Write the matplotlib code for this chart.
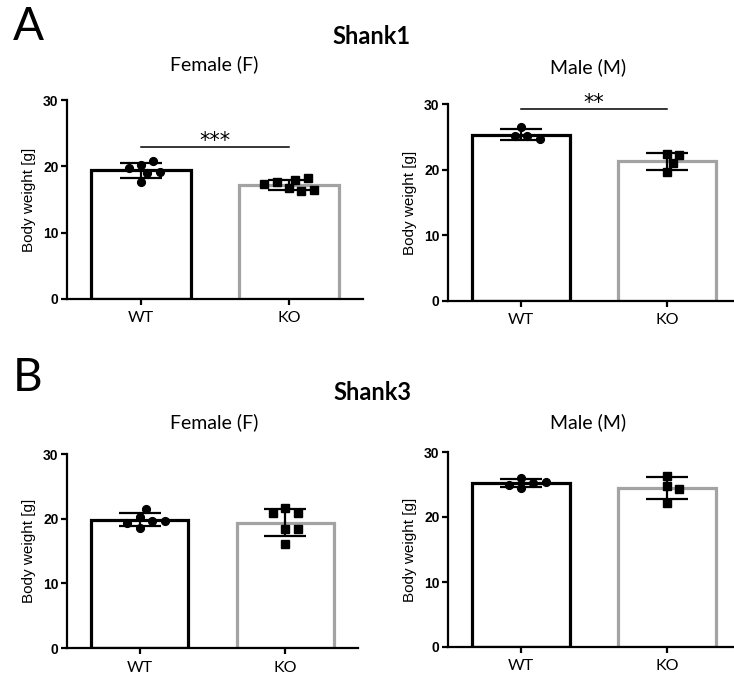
import numpy as np
import matplotlib
matplotlib.use("Agg")
import matplotlib.pyplot as plt

# body weights [g] per animal
groups = ["WT", "KO"]

shank1_f_wt = [20.2, 20.8, 19.0, 19.75, 19.15, 17.6]
shank1_f_ko = [16.8, 18.0, 17.7, 16.3, 18.2, 17.3, 16.4]
shank1_m_wt = [26.5, 25.1, 25.1, 24.6]
shank1_m_ko = [22.4, 22.2, 21.0, 19.6]

shank3_f_wt = [20.3, 21.5, 19.7, 18.6, 19.3, 19.7]
shank3_f_ko = [21.7, 20.9, 20.9, 18.4, 18.4, 16.1]
shank3_m_wt = [26.0, 25.2, 24.5, 25.0, 25.4]
shank3_m_ko = [26.3, 24.8, 24.3, 22.2]

yticks = [0, 10, 20, 30]
sig_f1 = "***"
sig_m1 = "**"

TITLE_FONT = "Lato"
TICK_FONT = "Liberation Sans"
KO_GREY = "#a3a3a3"

fig = plt.figure(figsize=(7.34, 6.75), dpi=100)


def swarm_offsets(ax, vals, diam_px, step):
    # spread points sideways so the markers don't overlap (scatter dot plot)
    t = ax.transData.transform
    sx = t((1, 0))[0] - t((0, 0))[0]
    sy = t((0, 1))[1] - t((0, 0))[1]
    placed = []
    offs = []
    for v in vals:
        y = v * sy
        k = 0
        while True:
            cands = [0.0] if k == 0 else [k * step, -k * step]
            ok = None
            for c in cands:
                if all((c - px) ** 2 + (y - py) ** 2 >= diam_px ** 2 for px, py in placed):
                    ok = c
                    break
            if ok is not None:
                placed.append((ok, y))
                offs.append(ok / sx)
                break
            k += 1
    return np.array(offs)


def panel(rect, wt, ko, sig=None, sig_y=None):
    ax = fig.add_axes(rect)
    ax.set_xlim(-0.5, 1.5)
    ax.set_ylim(0, 30)
    for s in ["top", "right"]:
        ax.spines[s].set_visible(False)
    for s in ["left", "bottom"]:
        ax.spines[s].set_linewidth(1.6)
    ax.set_yticks(yticks)
    ax.set_xticks([0, 1])
    ax.set_xticklabels(groups, fontfamily=TITLE_FONT, fontsize=11.5)
    for lab in ax.get_yticklabels():
        lab.set_fontfamily(TICK_FONT)
        lab.set_fontweight("bold")
        lab.set_fontsize(10)
    ax.tick_params(axis="y", length=4, width=1.6, pad=2)
    ax.tick_params(axis="x", length=4, width=1.6, pad=5)
    ax.set_ylabel("Body weight [g]", fontfamily=TICK_FONT, fontsize=11, labelpad=5)

    for i, (vals, col, mk) in enumerate([(wt, "black", "o"), (ko, KO_GREY, "s")]):
        vals = np.array(vals)
        mean = vals.mean()
        sd = vals.std(ddof=1)
        ax.bar(i, mean, width=0.67, facecolor="white", edgecolor=col,
               linewidth=2.3, zorder=2)
        offs = swarm_offsets(ax, vals, 9.5, 6.2)
        ax.plot(i + offs, vals, mk, color="black", markersize=5.6 if mk == "o" else 5.3,
                linestyle="none", zorder=3)
        ax.errorbar(i, mean, yerr=sd, color="black", capsize=15, capthick=1.6,
                    elinewidth=1.6, zorder=4)

    if sig:
        ax.plot([0, 1], [sig_y, sig_y], color="black", lw=1.1, clip_on=False)
        ax.text(0.5, sig_y, sig, ha="center", va="baseline", fontsize=15,
                fontfamily="DejaVu Sans")
    return ax


W, H = 734.0, 675.0

panel([67 / W, 1 - 299 / H, 296 / W, 199 / H], shank1_f_wt, shank1_f_ko, sig_f1, 22.9)
panel([448 / W, 1 - 301 / H, 292 / W, 197 / H], shank1_m_wt, shank1_m_ko, sig_m1, 29.2)
panel([67 / W, 1 - 648 / H, 291 / W, 194 / H], shank3_f_wt, shank3_f_ko)
panel([448 / W, 1 - 647 / H, 292 / W, 195 / H], shank3_m_wt, shank3_m_ko)

# panel letters and headings
fig.text(13 / W, 1 - 27 / H, "A", fontsize=33, fontfamily=TITLE_FONT, va="center")
fig.text(13 / W, 1 - 378 / H, "B", fontsize=33, fontfamily=TITLE_FONT, va="center")
fig.text(372 / W, 1 - 36 / H, "Shank1", fontsize=17, fontweight="bold",
         fontfamily=TITLE_FONT, ha="center", va="center")
fig.text(372 / W, 1 - 393 / H, "Shank3", fontsize=17, fontweight="bold",
         fontfamily=TITLE_FONT, ha="center", va="center")
fig.text(214 / W, 1 - 64 / H, "Female (F)", fontsize=14, fontfamily=TITLE_FONT,
         ha="center", va="center")
fig.text(588 / W, 1 - 67 / H, "Male (M)", fontsize=14, fontfamily=TITLE_FONT,
         ha="center", va="center")
fig.text(214 / W, 1 - 422 / H, "Female (F)", fontsize=14, fontfamily=TITLE_FONT,
         ha="center", va="center")
fig.text(588 / W, 1 - 422 / H, "Male (M)", fontsize=14, fontfamily=TITLE_FONT,
         ha="center", va="center")

fig.savefig("out.png", dpi=100)
